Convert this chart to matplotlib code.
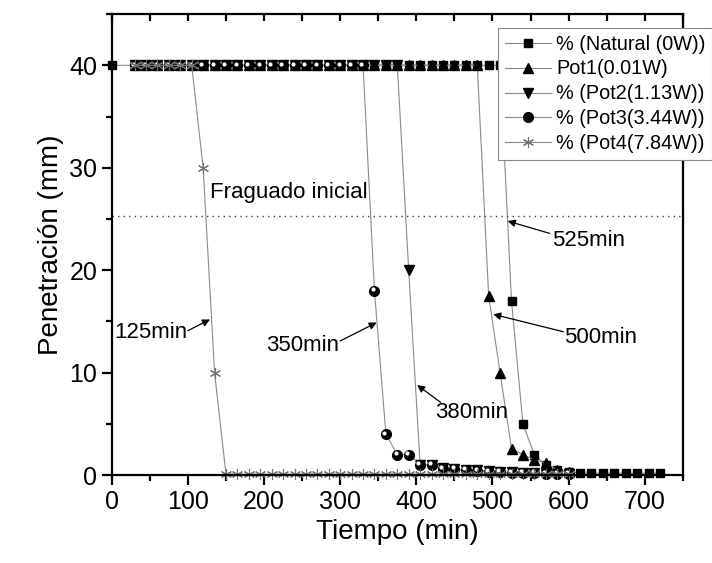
import numpy as np
import matplotlib
matplotlib.use('Agg')
import matplotlib.pyplot as plt
from matplotlib.transforms import offset_copy

plt.rcParams['font.family'] = ['Liberation Sans', 'DejaVu Sans']

# ---- data (time in min, penetration in mm) ----
t_nat = [0] + list(range(30, 511, 15)) + list(range(525, 721, 15))
p_nat = [40] * 34 + [17, 5, 2, 1, 0.5, 0.3, 0.2, 0.2, 0.2, 0.2, 0.2, 0.2, 0.2, 0.2]

t_pot1 = list(range(30, 481, 15)) + list(range(495, 601, 15))
p_pot1 = [40] * 31 + [17.5, 10, 2.6, 2, 1.5, 1.2, 0.5, 0.3]

t_pot2 = list(range(30, 376, 15)) + list(range(390, 601, 15))
p_pot2 = [40] * 24 + [20, 1, 1, 0.7, 0.6, 0.5, 0.5, 0.4, 0.3, 0.3, 0.2, 0.2, 0.1, 0.1, 0.1]

t_pot3 = list(range(30, 331, 15)) + list(range(345, 601, 15))
p_pot3 = [40] * 21 + [18, 4, 2, 2, 1, 1, 0.6, 0.6, 0.5, 0.4, 0.3, 0.3, 0.2, 0.2, 0.2, 0.1, 0.1, 0.1]

t_pot4 = list(range(30, 106, 15)) + list(range(120, 601, 15))
p_pot4 = [40] * 6 + [30, 10] + [0.1] * 31

labels = ['% (Natural (0W))', 'Pot1(0.01W)', '% (Pot2(1.13W))',
          '% (Pot3(3.44W))', '% (Pot4(7.84W))']

fraguado = 25.3

fig = plt.figure(figsize=(7.12, 5.63), dpi=100)
ax = fig.add_axes([0.157, 0.156, 0.802, 0.819])

lc = '#8a8a8a'
kw = dict(color=lc, lw=0.8, clip_on=False)
h1, = ax.plot(t_nat, p_nat, marker='s', ms=5.5, mfc='black', mec='black', label=labels[0], **kw)
h2, = ax.plot(t_pot1, p_pot1, marker='^', ms=7, mfc='black', mec='black', label=labels[1], **kw)
h3, = ax.plot(t_pot2, p_pot2, marker='v', ms=7, mfc='black', mec='black', label=labels[2], **kw)
h4, = ax.plot(t_pot3, p_pot3, marker='o', ms=7, mfc='black', mec='black', label=labels[3], **kw)
# little highlight on the "ball" markers
hl = offset_copy(ax.transData, fig=fig, x=-1.2, y=1.2, units='points')
ax.plot(t_pot3, p_pot3, ls='none', marker='o', ms=2, mfc='white', mec='white',
        transform=hl, clip_on=False)
h5, = ax.plot(t_pot4, p_pot4, marker=(6, 2, 0), ms=8, mec='#707070', mew=0.8, label=labels[4], **kw)

ax.axhline(fraguado, color='#444444', ls=(0, (1, 3)), lw=1.0)

ax.set_xlim(0, 750)
ax.set_ylim(0, 45)
ax.set_xticks(np.arange(0, 701, 100))
ax.set_xticks(np.arange(50, 751, 100), minor=True)
ax.set_yticks(np.arange(0, 41, 10))
ax.set_yticks(np.arange(5, 46, 10), minor=True)

for s in ax.spines.values():
    s.set_linewidth(1.6)
ax.tick_params(which='major', direction='out', length=7, width=1.6, labelsize=18)
ax.tick_params(which='minor', direction='out', length=4, width=1.6)
ax.tick_params(axis='x', which='both', top=True, labeltop=False)

ax.set_xlabel('Tiempo (min)', fontsize=20)
ax.set_ylabel('Penetración (mm)', fontsize=20)

# top ticks point inward
for tk in ax.xaxis.get_major_ticks() + ax.xaxis.get_minor_ticks():
    tk.tick2line.set_marker(matplotlib.lines.TICKDOWN)
    tk.tick2line.set_markersize(5)

ax.text(129, 27.6, 'Fraguado inicial', fontsize=16, va='center', ha='left')

arr = dict(arrowstyle='-|>', color='black', lw=0.9, mutation_scale=11, shrinkA=0, shrinkB=0)
notes = [('125min', (100, 14.1), (129, 15.2), 'right', (99, 13.9)),
         ('350min', (300, 13.1), (348, 14.9), 'right', (299, 12.7)),
         ('380min', (432, 7.1), (401, 8.8), 'left', (425, 6.1)),
         ('500min', (593, 14.0), (501, 15.7), 'left', (594, 13.4)),
         ('525min', (575, 23.6), (520, 24.8), 'left', (578, 22.9))]
for txt, tail, head, ha, pos in notes:
    ax.annotate('', xy=head, xytext=tail, arrowprops=arr)
    ax.text(pos[0], pos[1], txt, fontsize=16, ha=ha, va='center')

leg = fig.legend(handles=[h1, h2, h3, h4, h5], loc='upper left',
                 bbox_to_anchor=(0.700, 0.951), fontsize=14.3, frameon=True,
                 fancybox=False, edgecolor='#888888', framealpha=1,
                 handlelength=2.3, handletextpad=0.25, labelspacing=0.3,
                 borderpad=0.35, borderaxespad=0)
leg.get_frame().set_linewidth(0.8)

plt.savefig('out.png', dpi=100)
